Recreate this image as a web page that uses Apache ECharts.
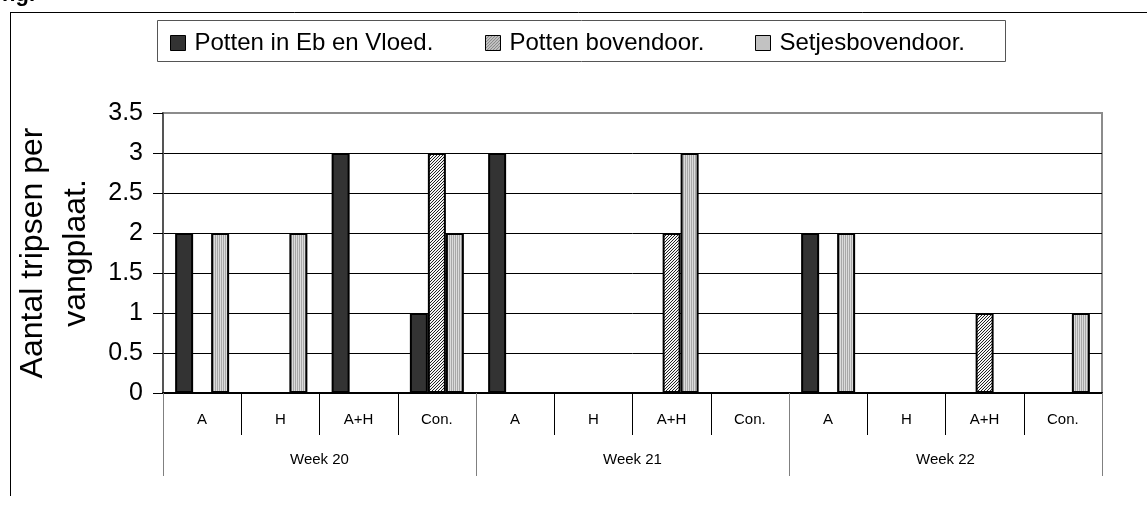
<!DOCTYPE html>
<html>
<head>
<meta charset="utf-8">
<script src="https://cdn.jsdelivr.net/npm/echarts@6/dist/echarts.min.js"></script>
<style>
html, body { margin: 0; padding: 0; background: #fff; }
#chart { width: 1147px; height: 505px; }
</style>
</head>
<body>
<div id="chart"></div>
<script>
var weeks = ['Week 20', 'Week 21', 'Week 22']
var treatments = ['A', 'H', 'A+H', 'Con.']
var seriesNames = ['Potten in Eb en Vloed.', 'Potten bovendoor.', 'Setjesbovendoor.']
// values per category: week 20 (A, H, A+H, Con.), week 21, week 22
var ebVloed = [2, 0, 3, 1, 3, 0, 0, 0, 2, 0, 0, 0]
var pottenBoven = [0, 0, 0, 3, 0, 0, 2, 0, 0, 0, 1, 0]
var setjesBoven = [2, 2, 0, 2, 0, 0, 3, 0, 2, 0, 0, 1]
var yTicks = [0, 0.5, 1, 1.5, 2, 2.5, 3, 3.5]

var categories = []
for (var w of weeks) {
  for (var t of treatments) categories.push(t)
}

function makePattern (size, draw) {
  var c = document.createElement('canvas')
  c.width = size
  c.height = size
  var ctx = c.getContext('2d')
  draw(ctx)
  return { image: c, repeat: 'repeat' }
}

var hatch = makePattern(3, function (ctx) {
  ctx.fillStyle = '#f4f4f4'
  ctx.fillRect(0, 0, 3, 3)
  ctx.fillStyle = '#222222'
  for (var y = 0; y < 3; y++) {
    for (var x = 0; x < 3; x++) {
      if ((x + y) % 3 === 0) ctx.fillRect(x, y, 1, 1)
    }
  }
})

var stripes = makePattern(2, function (ctx) {
  ctx.fillStyle = '#dcdcdc'
  ctx.fillRect(0, 0, 2, 2)
  ctx.fillStyle = '#a8a8a8'
  ctx.fillRect(1, 0, 1, 2)
})

var fills = ['#333333', hatch, stripes]
var values = [ebVloed, pottenBoven, setjesBoven]

var series = seriesNames.map(function (name, i) {
  return {
    name: name,
    type: 'bar',
    barWidth: 18,
    barGap: '0%',
    data: values[i].map(function (v) { return v === 0 ? null : v }),
    itemStyle: {
      color: fills[i],
      borderColor: '#000',
      borderWidth: 2
    }
  }
})

var legendLeft = [170, 485, 755]
var legends = seriesNames.map(function (name, i) {
  return {
    data: [name],
    left: legendLeft[i],
    top: 31,
    padding: 0,
    itemWidth: 15,
    itemHeight: 15,
    itemGap: 4,
    icon: 'rect',
    itemStyle: { borderColor: '#000', borderWidth: 1 },
    textStyle: { fontFamily: 'Liberation Sans', fontSize: 24, color: '#000', padding: [0, 0, 0, 4] }
  }
})

var myChart = echarts.init(document.getElementById('chart'))
myChart.setOption({
  animation: false,
  backgroundColor: '#fff',
  legend: legends,
  grid: {
    left: 163,
    right: 45,
    top: 113,
    bottom: 112,
    show: true,
    borderColor: '#8c8c8c',
    borderWidth: 2
  },
  xAxis: [
    {
      type: 'category',
      data: categories,
      position: 'bottom',
      axisLine: { show: true, lineStyle: { color: '#000', width: 2 } },
      axisTick: { show: true, interval: 0, length: 42, lineStyle: { color: '#000', width: 1 } },
      axisLabel: { interval: 0, margin: 19, fontFamily: 'Liberation Sans', fontSize: 15, color: '#000' }
    },
    {
      type: 'category',
      data: weeks,
      position: 'bottom',
      axisLine: { show: false },
      axisTick: { show: true, interval: 0, length: 83, lineStyle: { color: '#808080', width: 1 } },
      axisLabel: { interval: 0, margin: 59, fontFamily: 'Liberation Sans', fontSize: 15, color: '#000' }
    }
  ],
  yAxis: {
    type: 'value',
    min: yTicks[0],
    max: yTicks[yTicks.length - 1],
    interval: 0.5,
    name: 'Aantal tripsen per\nvangplaat.',
    nameLocation: 'middle',
    nameRotate: 90,
    nameGap: 60,
    nameTextStyle: { fontFamily: 'Liberation Sans', fontSize: 32, lineHeight: 43, color: '#000' },
    axisLine: { show: true, lineStyle: { color: '#555', width: 2 } },
    axisTick: { show: true, length: 10, lineStyle: { color: '#000' } },
    axisLabel: { margin: 20, fontFamily: 'Liberation Sans', fontSize: 25, color: '#000' },
    splitLine: { lineStyle: { color: ['#000', '#000', '#000', '#000', '#000', '#000', '#000', '#8c8c8c'], width: 1 } }
  },
  graphic: [
    { type: 'line', shape: { x1: 10, y1: 12.5, x2: 1147, y2: 12.5 }, style: { stroke: '#000', lineWidth: 1 } },
    { type: 'line', shape: { x1: 10.5, y1: 12, x2: 10.5, y2: 496 }, style: { stroke: '#000', lineWidth: 1 } },
    { type: 'rect', shape: { x: 157.5, y: 20.5, width: 848, height: 41 }, style: { fill: 'none', stroke: '#555', lineWidth: 1 }, z: -1 },
    { type: 'text', left: 2, top: -16, style: { text: 'ng.', font: 'bold 22px Liberation Sans', fill: '#000' } }
  ],
  series: series
})
</script>
</body>
</html>
